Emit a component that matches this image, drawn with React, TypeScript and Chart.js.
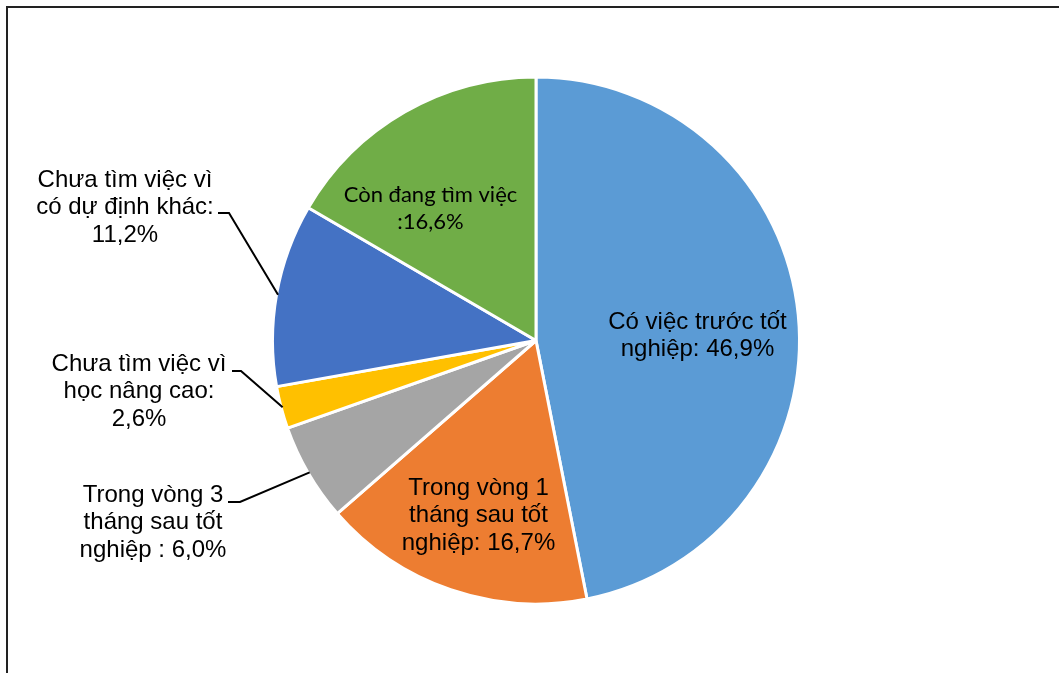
import React, { useEffect, useRef } from "react";
import { Chart, registerables } from "chart.js";

Chart.register(...registerables);

const categories = [
  "Có việc trước tốt nghiệp",
  "Trong vòng 1 tháng sau tốt nghiệp",
  "Trong vòng 3 tháng sau tốt nghiệp",
  "Chưa tìm việc vì học nâng cao",
  "Chưa tìm việc vì có dự định khác",
  "Còn đang tìm việc",
];
const values = [46.9, 16.7, 6.0, 2.6, 11.2, 16.6];
const colors = ["#5B9BD5", "#ED7D31", "#A5A5A5", "#FFC000", "#4472C4", "#70AD47"];
const labelLines = [
  ["Có việc trước tốt", "nghiệp: 46,9%"],
  ["Trong vòng 1", "tháng sau tốt", "nghiệp: 16,7%"],
  ["Trong vòng 3", "tháng sau tốt", "nghiệp : 6,0%"],
  ["Chưa tìm việc vì", "học nâng cao:", "2,6%"],
  ["Chưa tìm việc vì", "có dự định khác:", "11,2%"],
  ["Còn đang tìm việc", ":16,6%"],
];

const ARIAL = "24px 'Liberation Sans'";
const CALIBRI = "22px Lato";

// label layout: first-line baseline centre, relative to pie centre; leader anchor for outside labels
const labelLayout = [
  { dx: 161.5, dy: -11.5, font: ARIAL, leader: null },
  { dx: -57.5, dy: 154.5, font: ARIAL, leader: null },
  { dx: -383, dy: 161.5, font: ARIAL, leader: { x1: -308, x2: -296, y: 161.5 } },
  { dx: -397, dy: 30.5, font: ARIAL, leader: { x1: -304, x2: -295, y: 30.5 } },
  { dx: -411, dy: -153.5, font: ARIAL, leader: { x1: -318, x2: -307, y: -127.5 } },
  { dx: -105.5, dy: -138.5, font: CALIBRI, leader: null },
];
const lineHeight = 27.3;

const labelPlugin = {
  id: "pieLabels",
  afterDraw(chart: any) {
    const ctx = chart.ctx;
    ctx.save();
    ctx.strokeStyle = "#222222";
    ctx.lineWidth = 2;
    ctx.beginPath();
    ctx.moveTo(7, 673);
    ctx.lineTo(7, 7);
    ctx.lineTo(1059, 7);
    ctx.stroke();
    ctx.restore();

    const meta = chart.getDatasetMeta(0);
    meta.data.forEach((arc: any, i: number) => {
      const { x, y, startAngle, endAngle, outerRadius } = arc.getProps(
        ["x", "y", "startAngle", "endAngle", "outerRadius"],
        true
      );
      const lay = labelLayout[i];
      ctx.save();
      if (lay.leader) {
        const mid = (startAngle + endAngle) / 2;
        const r = outerRadius - 1.5;
        const px = x + Math.cos(mid) * r;
        const py = y + Math.sin(mid) * r;
        ctx.strokeStyle = "#000000";
        ctx.lineWidth = 2;
        ctx.beginPath();
        ctx.moveTo(x + lay.leader.x1, y + lay.leader.y);
        ctx.lineTo(x + lay.leader.x2, y + lay.leader.y);
        ctx.lineTo(px, py);
        ctx.stroke();
      }
      ctx.fillStyle = "#000000";
      ctx.font = lay.font;
      ctx.textAlign = "center";
      ctx.textBaseline = "alphabetic";
      labelLines[i].forEach((t, k) => {
        ctx.fillText(t, x + lay.dx, y + lay.dy + k * lineHeight);
      });
      ctx.restore();
    });
  },
};

export default function App() {
  const ref = useRef<HTMLCanvasElement>(null);
  useEffect(() => {
    let chart: any = null;
    let cancelled = false;
    const make = () => {
      if (cancelled) return;
      chart = new Chart(ref.current as HTMLCanvasElement, {
        type: "pie",
        data: {
          labels: categories,
          datasets: [
            {
              data: values,
              backgroundColor: colors,
              borderColor: "#ffffff",
              borderWidth: 3,
            },
          ],
        },
        options: {
          animation: false,
          responsive: false,
          layout: { padding: { left: 271, top: 75.5, right: 258, bottom: 67.5 } },
          plugins: {
            legend: { display: false },
            tooltip: { enabled: false },
          },
        },
        plugins: [labelPlugin],
      });
    };
    Promise.all([
      document.fonts.load(ARIAL, "Chưa tìm việc"),
      document.fonts.load(CALIBRI, "Còn đang tìm việc"),
    ])
      .catch(() => null)
      .then(make);
    return () => {
      cancelled = true;
      if (chart) chart.destroy();
    };
  }, []);
  return (
    <div style={{ position: "fixed", left: 0, top: 0, width: 1059, height: 673, background: "#fff" }}>
      <canvas ref={ref} width={1059} height={673} style={{ display: "block" }} />
    </div>
  );
}
